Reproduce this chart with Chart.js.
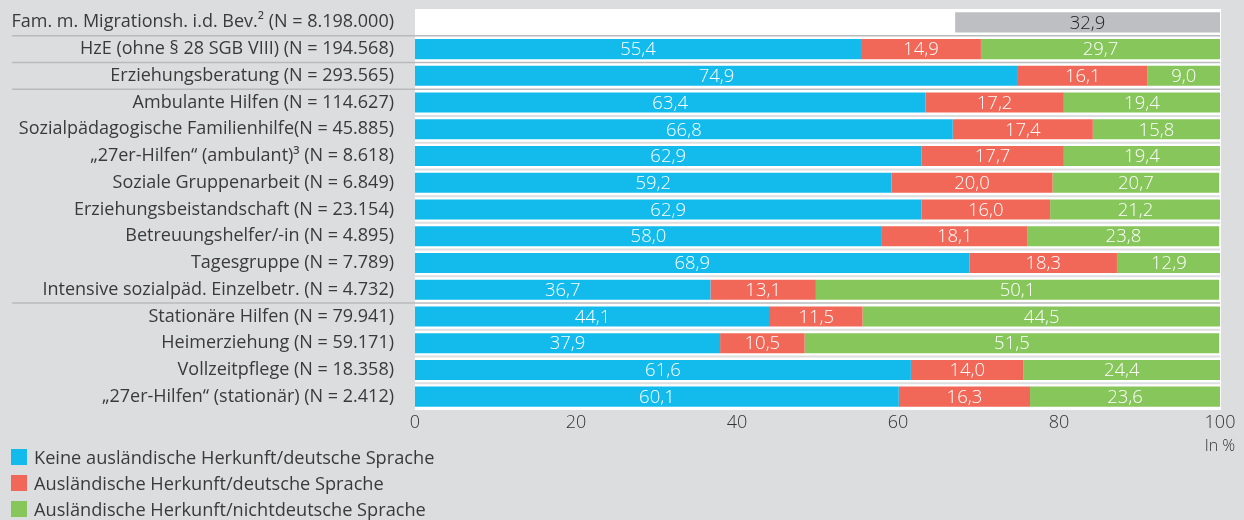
<!DOCTYPE html>
<html><head><meta charset="utf-8">
<script src="https://cdn.jsdelivr.net/npm/chart.js@4.4.1/dist/chart.umd.min.js"></script>
<style>
html,body{margin:0;padding:0;background:#dcdddf;}
#wrap{position:relative;width:1244px;height:520px;overflow:hidden;}
#legend{position:absolute;left:11px;top:444px;font-family:'Open Sans',sans-serif;font-size:18.2px;color:#3a3a3a;}
.li{display:flex;align-items:center;height:26px;}
.sw{width:16px;height:16px;margin-right:7px;flex:none;}
</style></head>
<body><div id="wrap"><canvas id="c" width="1244" height="520"></canvas><div id="legend"></div></div>
<script>
const categories = [
  "Fam. m. Migrationsh. i.d. Bev.\u00B2 (N = 8.198.000)",
  "HzE (ohne § 28 SGB VIII) (N = 194.568)",
  "Erziehungsberatung (N = 293.565)",
  "Ambulante Hilfen (N = 114.627)",
  "Sozialpädagogische Familienhilfe(N = 45.885)",
  "\u201E27er-Hilfen\u201C (ambulant)\u00B3 (N = 8.618)",
  "Soziale Gruppenarbeit (N = 6.849)",
  "Erziehungsbeistandschaft (N = 23.154)",
  "Betreuungshelfer/-in (N = 4.895)",
  "Tagesgruppe (N = 7.789)",
  "Intensive sozialpäd. Einzelbetr. (N = 4.732)",
  "Stationäre Hilfen (N = 79.941)",
  "Heimerziehung (N = 59.171)",
  "Vollzeitpflege (N = 18.358)",
  "\u201E27er-Hilfen\u201C (stationär) (N = 2.412)"
];
const keineAuslaendisch = [null, 55.4, 74.9, 63.4, 66.8, 62.9, 59.2, 62.9, 58.0, 68.9, 36.7, 44.1, 37.9, 61.6, 60.1];
const auslaendischDeutsch = [null, 14.9, 16.1, 17.2, 17.4, 17.7, 20.0, 16.0, 18.1, 18.3, 13.1, 11.5, 10.5, 14.0, 16.3];
const auslaendischNichtdeutsch = [null, 29.7, 9.0, 19.4, 15.8, 19.4, 20.7, 21.2, 23.8, 12.9, 50.1, 44.5, 51.5, 24.4, 23.6];
const bevoelkerung = [32.9, null, null, null, null, null, null, null, null, null, null, null, null, null, null];
const seriesNames = [
  "Keine ausländische Herkunft/deutsche Sprache",
  "Ausländische Herkunft/deutsche Sprache",
  "Ausländische Herkunft/nichtdeutsche Sprache"
];
const xTicks = [0, 20, 40, 60, 80, 100];
const groupStarts = [1, 2, 3, 11];

const colors = ['#13bbed', '#f26858', '#86c65a'];
const grayColor = '#bebfc3';
const spacer = bevoelkerung.map(v => v == null ? null : 100 - v);

const numFont = {family: "'Open Sans', 'DejaVu Sans'", size: 18.5, weight: '300'};
const fmt = v => v.toFixed(1).replace('.', ',');

// HTML legend
const leg = document.getElementById('legend');
seriesNames.forEach((n, i) => {
  const d = document.createElement('div'); d.className = 'li';
  d.innerHTML = '<span class="sw" style="background:' + colors[i] + '"></span><span>' + n + '</span>';
  leg.appendChild(d);
});

const bgPlugin = {
  id: 'bg',
  beforeDraw(chart) {
    const {ctx, chartArea: a} = chart;
    ctx.save();
    ctx.fillStyle = '#ffffff';
    ctx.fillRect(a.left, a.top, a.right - a.left + 1, a.bottom - a.top);
    ctx.restore();
  },
  beforeDatasetsDraw(chart) {
    const {ctx, chartArea: a, scales: {y}} = chart;
    const n = categories.length;
    ctx.save();
    for (let i = 1; i < n; i++) {
      const yy = (y.getPixelForValue(i - 1) + y.getPixelForValue(i)) / 2;
      if (groupStarts.includes(i)) {
        ctx.strokeStyle = '#b9babd'; ctx.lineWidth = 1.5;
        ctx.beginPath(); ctx.moveTo(12, yy); ctx.lineTo(a.right, yy); ctx.stroke();
      } else {
        ctx.strokeStyle = '#dddee0'; ctx.lineWidth = 2;
        ctx.beginPath(); ctx.moveTo(a.left, yy); ctx.lineTo(a.right, yy); ctx.stroke();
      }
    }
    ctx.restore();
  },
  afterDatasetsDraw(chart) {
    const {ctx, scales: {x}} = chart;
    ctx.save();
    ctx.font = Chart.helpers.toFont(numFont).string;
    ctx.textAlign = 'center'; ctx.textBaseline = 'middle';
    chart.data.datasets.forEach((ds, di) => {
      if (ds.isSpacer) return;
      const meta = chart.getDatasetMeta(di);
      meta.data.forEach((el, i) => {
        const v = ds.data[i];
        if (v == null) return;
        const p = el.getProps(['x', 'base', 'y'], true);
        ctx.fillStyle = ds.labelColor;
        ctx.fillText(fmt(v), (p.x + p.base) / 2, p.y + 1);
      });
    });
    ctx.fillStyle = '#333';
    ctx.font = Chart.helpers.toFont({family: numFont.family, size: 16, weight: '300'}).string;
    ctx.fillText('In %', x.getPixelForValue(100), 446);
    ctx.restore();
  }
};

new Chart(document.getElementById('c'), {
  type: 'bar',
  data: {
    labels: categories,
    datasets: [
      {label: 'spacer', data: spacer, backgroundColor: 'rgba(0,0,0,0)', isSpacer: true},
      {label: 'Bevölkerung', data: bevoelkerung, backgroundColor: grayColor, labelColor: '#222'},
      {label: seriesNames[0], data: keineAuslaendisch, backgroundColor: colors[0], labelColor: '#fff'},
      {label: seriesNames[1], data: auslaendischDeutsch, backgroundColor: colors[1], labelColor: '#fff'},
      {label: seriesNames[2], data: auslaendischNichtdeutsch, backgroundColor: colors[2], labelColor: '#fff'}
    ]
  },
  options: {
    indexAxis: 'y',
    responsive: false,
    animation: false,
    layout: {padding: {top: 9, right: 24, bottom: 80, left: 0}},
    datasets: {bar: {barPercentage: 0.75, categoryPercentage: 1, borderWidth: 0, borderSkipped: false}},
    plugins: {legend: {display: false}, tooltip: {enabled: false}},
    scales: {
      x: {
        stacked: true, min: 0, max: 100,
        grid: {display: false, drawTicks: false}, border: {display: false},
        afterBuildTicks(s) { s.ticks = xTicks.map(v => ({value: v})); },
        afterFit(s) { s.height = 30; s.paddingLeft = 0; s.paddingRight = 0; },
        ticks: {color: '#333', padding: 2, font: {family: numFont.family, size: 18, weight: '300'}, maxRotation: 0}
      },
      y: {
        stacked: true,
        grid: {display: false}, border: {display: false},
        afterFit(s) { s.width = 415; s.paddingTop = 0; s.paddingBottom = 0; },
        ticks: {color: '#3a3a3a', padding: 13, autoSkip: false, font: {family: "'Open Sans', sans-serif", size: 18}}
      }
    }
  },
  plugins: [bgPlugin]
});
</script>
</body></html>
